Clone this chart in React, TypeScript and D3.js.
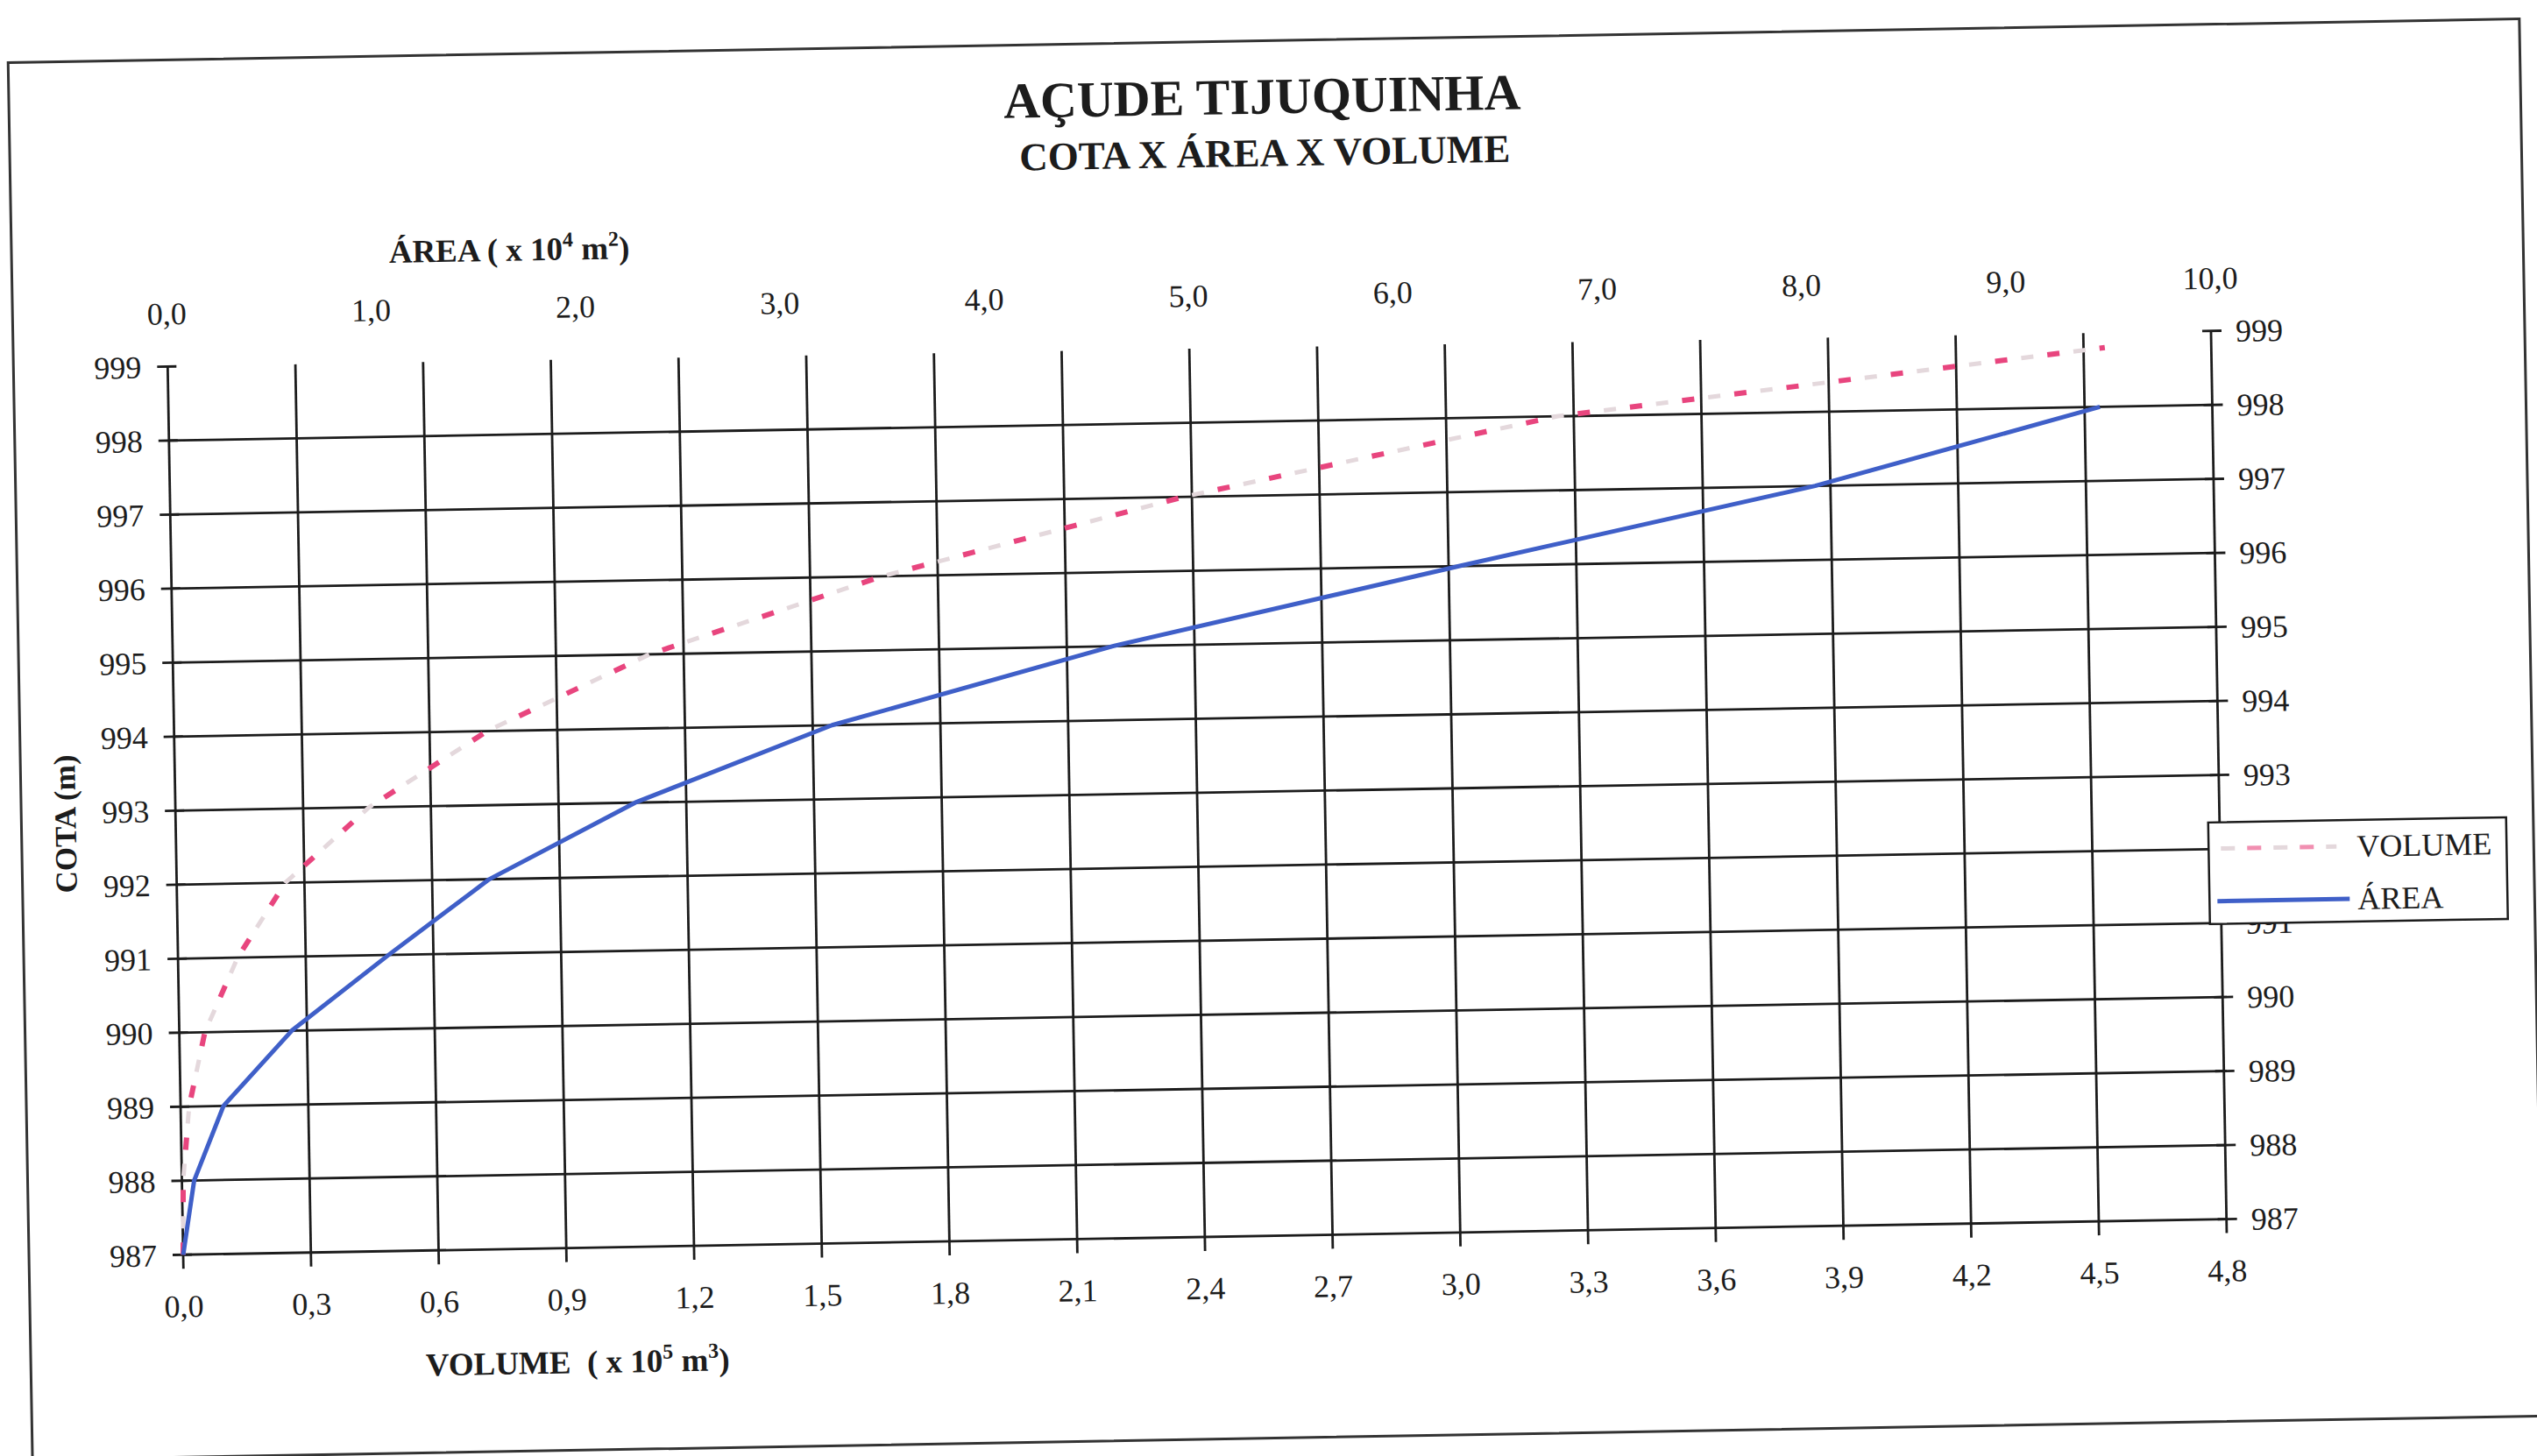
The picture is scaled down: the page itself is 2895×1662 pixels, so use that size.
import React, { useEffect } from 'react';
import * as d3 from 'd3';

// Cota (m) x Área (x 10^4 m2)
const areaCotas = [987, 988, 989, 990, 991, 992, 993, 994, 995, 996, 997, 998];
const areaValues = [0, 0.06, 0.21, 0.55, 1.03, 1.53, 2.25, 3.22, 4.6, 6.3, 8.05, 9.45];

// Cota (m) x Volume (x 10^5 m3)
const volumeCotas = [987, 988, 989, 990, 991, 992, 993, 994, 995, 996, 997, 998, 998.8];
const volumeValues = [0, 0.003, 0.02, 0.06, 0.14, 0.255, 0.455, 0.735, 1.12, 1.67, 2.38, 3.26, 4.55];

const cotaTicks = d3.range(987, 1000);
const volumeTicks = d3.range(0, 17).map(i => i * 0.3);
const areaTicks = d3.range(0, 11);

const W = 2895;
const H = 1662;
const plot = { left: 200, right: 2532, top: 398, bottom: 1412 };

const FONT = "'Liberation Serif', 'Times New Roman', serif";
const INK = '#1c1c1c';
const BLUE = '#3f5fc8';
const PINK = '#e8457e';
const FAINT = '#e4d8dc';

const fmt = (v: number) => d3.format('.1f')(v).replace('.', ',');

const App: React.FC = () => {
    useEffect(() => {
        document.body.style.margin = '0';
    }, []);

    const xVol = d3.scaleLinear().domain([0, 4.8]).range([plot.left, plot.right]);
    const xArea = d3.scaleLinear().domain([0, 10]).range([plot.left, plot.right]);
    const y = d3.scaleLinear().domain([987, 999]).range([plot.bottom, plot.top]);

    const areaLine = d3.line<number>()
        .x((_, i) => xArea(areaValues[i]))
        .y((c) => y(c));
    const volumeLine = d3.line<number>()
        .x((_, i) => xVol(volumeValues[i]))
        .y((c) => y(c));

    const volPath = volumeLine(volumeCotas) || '';

    return (
        <svg width={W} height={H} style={{ display: 'block', background: '#fff' }} fontFamily={FONT}>
            <g transform="rotate(-1 1366 905)">
                {/* chart frame */}
                <rect x={24} y={48} width={2866} height={1595} fill="none" stroke="#333" strokeWidth={3} />

                {/* titles */}
                <text x={1454} y={131} textAnchor="middle" fontSize={58} fontWeight="bold" fill={INK}>AÇUDE TIJUQUINHA</text>
                <text x={1456} y={191} textAnchor="middle" fontSize={45} fontWeight="bold" fill={INK}>COTA X ÁREA X VOLUME</text>

                {/* horizontal grid */}
                {cotaTicks.filter(c => c < 999).map(c => (
                    <line key={'h' + c} x1={plot.left} x2={plot.right} y1={y(c)} y2={y(c)} stroke={INK} strokeWidth={2.8} />
                ))}
                {/* vertical grid + bottom ticks */}
                {volumeTicks.map((v, i) => (
                    <line key={'v' + i} x1={xVol(v)} x2={xVol(v)} y1={plot.bottom + 16} y2={plot.top} stroke={INK} strokeWidth={2.8} />
                ))}
                {/* left / right axis ticks */}
                {cotaTicks.map(c => (
                    <g key={'t' + c}>
                        <line x1={plot.left - 12} x2={plot.left + 10} y1={y(c)} y2={y(c)} stroke={INK} strokeWidth={2.8} />
                        <line x1={plot.right - 10} x2={plot.right + 12} y1={y(c)} y2={y(c)} stroke={INK} strokeWidth={2.8} />
                    </g>
                ))}

                {/* left axis labels */}
                {cotaTicks.map(c => (
                    <text key={'l' + c} x={plot.left - 30} y={y(c)} dy="0.35em" textAnchor="end" fontSize={36} fill={INK}>{c}</text>
                ))}
                {/* right axis labels */}
                {cotaTicks.map(c => (
                    <text key={'r' + c} x={plot.right + 28} y={y(c)} dy="0.35em" textAnchor="start" fontSize={36} fill={INK}>{c}</text>
                ))}
                {/* bottom axis labels */}
                {volumeTicks.map((v, i) => (
                    <text key={'b' + i} x={xVol(v)} y={plot.bottom + 71} textAnchor="middle" fontSize={36} fill={INK}>{fmt(v)}</text>
                ))}
                {/* top axis labels */}
                {areaTicks.map(a => (
                    <text key={'a' + a} x={xArea(a)} y={plot.top - 48} textAnchor="middle" fontSize={36} fill={INK}>{fmt(a)}</text>
                ))}

                {/* axis titles */}
                <text x={592} y={284} textAnchor="middle" fontSize={37} fontWeight="bold" fill={INK}>
                    ÁREA ( x 10<tspan fontSize={24} dy={-15}>4</tspan><tspan dy={15}> m</tspan><tspan fontSize={24} dy={-15}>2</tspan><tspan dy={15}>)</tspan>
                </text>
                <text x={648} y={1555} textAnchor="middle" fontSize={37} fontWeight="bold" fill={INK} style={{ whiteSpace: 'pre' }}>
                    {'VOLUME  ( x 10'}<tspan fontSize={24} dy={-15}>5</tspan><tspan dy={15}> m</tspan><tspan fontSize={24} dy={-15}>3</tspan><tspan dy={15}>)</tspan>
                </text>
                <text transform="translate(86 918) rotate(-90)" textAnchor="middle" fontSize={35} fontWeight="bold" fill={INK}>COTA (m)</text>

                {/* series */}
                <path d={volPath} fill="none" stroke={FAINT} strokeWidth={5} strokeDasharray="14 46" strokeDashoffset={-30} />
                <path d={volPath} fill="none" stroke={PINK} strokeWidth={6} strokeDasharray="14 46" />
                <path d={areaLine(areaCotas) || ''} fill="none" stroke={BLUE} strokeWidth={5} strokeLinejoin="round" />

                {/* legend */}
                <g transform="translate(2519 959)">
                    <rect x={0} y={0} width={340} height={116} fill="#fff" stroke={INK} strokeWidth={2.5} />
                    <line x1={9} x2={146} y1={30} y2={30} stroke={FAINT} strokeWidth={5} strokeDasharray="16 44" strokeDashoffset={-5} />
                    <line x1={9} x2={146} y1={30} y2={30} stroke={PINK} strokeWidth={5} strokeDasharray="16 44" strokeDashoffset={-35} opacity={0.6} />
                    <text x={169} y={42} fontSize={36} fill={INK}>VOLUME</text>
                    <line x1={9} x2={160} y1={90} y2={90} stroke={BLUE} strokeWidth={5} />
                    <text x={169} y={102} fontSize={36} fill={INK}>ÁREA</text>
                </g>
            </g>
        </svg>
    );
};

export default App;
